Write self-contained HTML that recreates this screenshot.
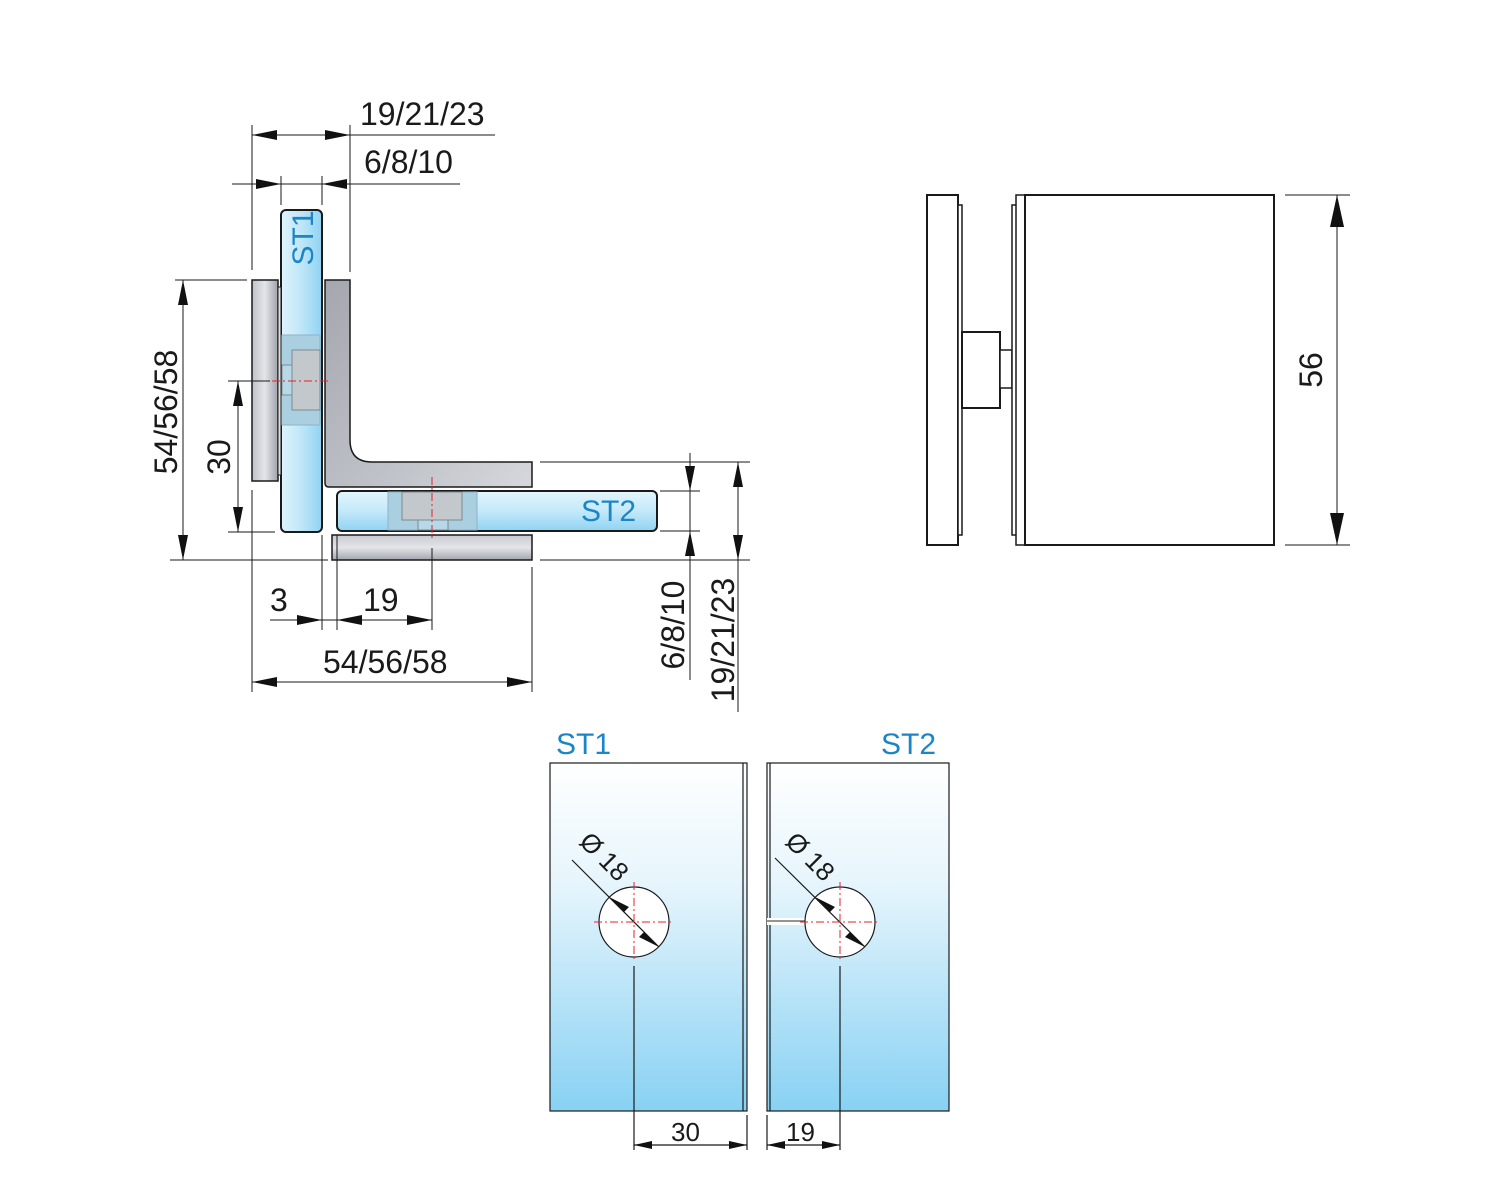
<!DOCTYPE html>
<html><head><meta charset="utf-8"><style>
html,body{margin:0;padding:0;background:#fff;}
svg{display:block}
text{font-family:"Liberation Sans",sans-serif;}
</style></head><body>
<svg width="1500" height="1200" viewBox="0 0 1500 1200" xmlns="http://www.w3.org/2000/svg">
<defs>
<linearGradient id="gH" x1="0" y1="0" x2="1" y2="0"><stop offset="0" stop-color="#dff3fc"/><stop offset="0.5" stop-color="#bfe6f8"/><stop offset="1" stop-color="#8fd3f2"/></linearGradient>
<linearGradient id="gV" x1="0" y1="0" x2="0" y2="1"><stop offset="0" stop-color="#e4f5fd"/><stop offset="0.5" stop-color="#c4e9f9"/><stop offset="1" stop-color="#8fd3f2"/></linearGradient>
<linearGradient id="gP" x1="0" y1="0" x2="0" y2="1"><stop offset="0" stop-color="#ffffff"/><stop offset="0.35" stop-color="#e6f5fc"/><stop offset="1" stop-color="#88d1f3"/></linearGradient>
<linearGradient id="mH" x1="0" y1="0" x2="1" y2="0"><stop offset="0" stop-color="#c0c2c8"/><stop offset="0.5" stop-color="#e4e5e9"/><stop offset="1" stop-color="#9fa2aa"/></linearGradient>
<linearGradient id="mV" x1="0" y1="0" x2="0" y2="1"><stop offset="0" stop-color="#c8cad0"/><stop offset="0.5" stop-color="#e4e5e9"/><stop offset="1" stop-color="#a3a6ae"/></linearGradient>
<linearGradient id="mL" x1="0" y1="0" x2="1" y2="1"><stop offset="0" stop-color="#a4a7ae"/><stop offset="0.6" stop-color="#bec1c7"/><stop offset="1" stop-color="#d6d8dc"/></linearGradient>
</defs>
<g stroke="#1a1a1a" stroke-width="1" fill="none">
<rect x="281" y="210" width="41" height="322" rx="5" fill="url(#gH)" stroke-width="2"/>
<rect x="281" y="335" width="39" height="90" fill="#a9cfe0" stroke="#8fb3c4"/>
<rect x="292" y="350" width="28" height="60" fill="#c2c8cc" stroke="#7f8a90"/>
<rect x="282" y="365" width="10" height="30" fill="#b7d8e6" stroke="#7f8a90"/>
<rect x="252" y="280" width="26" height="201" fill="url(#mH)" stroke-width="1.5"/>
<rect x="278" y="287" width="3" height="188" fill="#ddd"/>
<path d="M325 280 H350 V440 Q350 462 372 462 H532 V487 H329 Q325 487 325 483 Z" fill="url(#mL)" stroke-width="1.5"/>
<rect x="337" y="491" width="320" height="40" rx="5" fill="url(#gV)" stroke-width="2"/>
<rect x="388" y="492" width="89" height="38" fill="#a9cfe0" stroke="#8fb3c4"/>
<rect x="402" y="492" width="60" height="28" fill="#c2c8cc" stroke="#7f8a90"/>
<rect x="418" y="520" width="30" height="10" fill="#b7d8e6" stroke="#7f8a90"/>
<rect x="332" y="535" width="200" height="25" fill="url(#mV)" stroke-width="1.5"/>
<line x1="272" y1="381" x2="330" y2="381" stroke="#e8202a" stroke-dasharray="8 3 2 3"/>
<line x1="432" y1="477" x2="432" y2="540" stroke="#e8202a" stroke-dasharray="8 3 2 3"/>
<line x1="252" y1="125" x2="252" y2="270"/><line x1="350" y1="125" x2="350" y2="272"/>
<line x1="281" y1="176" x2="281" y2="205"/><line x1="322" y1="176" x2="322" y2="205"/>
<line x1="252" y1="135" x2="495" y2="135"/><line x1="232" y1="184" x2="460" y2="184"/>
<line x1="175" y1="280" x2="247" y2="280"/><line x1="170" y1="560" x2="328" y2="560"/><line x1="540" y1="560" x2="750" y2="560"/>
<line x1="228" y1="381" x2="270" y2="381"/><line x1="228" y1="532" x2="275" y2="532"/>
<line x1="183" y1="280" x2="183" y2="560"/><line x1="238" y1="381" x2="238" y2="532"/>
<line x1="252" y1="490" x2="252" y2="692"/><line x1="322" y1="535" x2="322" y2="630"/><line x1="337" y1="535" x2="337" y2="630"/>
<line x1="432" y1="548" x2="432" y2="630"/><line x1="532" y1="567" x2="532" y2="692"/>
<line x1="270" y1="620" x2="432" y2="620"/><line x1="252" y1="682" x2="532" y2="682"/>
<line x1="540" y1="462" x2="750" y2="462"/><line x1="660" y1="491" x2="700" y2="491"/><line x1="660" y1="531" x2="700" y2="531"/>
<line x1="690" y1="453" x2="690" y2="680"/><line x1="738" y1="462" x2="738" y2="712"/>
</g>
<g fill="#111">
<polygon points="252,135 277,130 277,140"/><polygon points="350,135 325,130 325,140"/>
<polygon points="281,184 256,179 256,189"/><polygon points="322,184 347,179 347,189"/>
<polygon points="183,280 178,305 188,305"/><polygon points="183,560 178,535 188,535"/>
<polygon points="238,381 233,406 243,406"/><polygon points="238,532 233,507 243,507"/>
<polygon points="322,620 297,615 297,625"/><polygon points="337,620 362,615 362,625"/><polygon points="432,620 407,615 407,625"/>
<polygon points="252,682 277,677 277,687"/><polygon points="532,682 507,677 507,687"/>
<polygon points="690,491 685,466 695,466"/><polygon points="690,531 685,556 695,556"/>
<polygon points="738,462 733,487 743,487"/><polygon points="738,560 733,535 743,535"/>
</g>
<g font-size="32" fill="#1a1a1a">
<text x="360" y="125">19/21/23</text>
<text x="364" y="173">6/8/10</text>
<text x="270" y="611">3</text>
<text x="363" y="611">19</text>
<text x="323" y="673">54/56/58</text>
<text transform="translate(177,412) rotate(-90)" text-anchor="middle">54/56/58</text>
<text transform="translate(230,457) rotate(-90)" text-anchor="middle">30</text>
<text transform="translate(684,625) rotate(-90)" text-anchor="middle">6/8/10</text>
<text transform="translate(734,640) rotate(-90)" text-anchor="middle">19/21/23</text>
<text transform="translate(1322,370) rotate(-90)" text-anchor="middle">56</text>
</g>
<g font-size="30" fill="#1a86c8">
<text transform="translate(313,238) rotate(-90)" text-anchor="middle">ST1</text>
<text x="581" y="521">ST2</text>
<text x="556" y="754">ST1</text>
<text x="881" y="754">ST2</text>
</g>
<g stroke="#1a1a1a" stroke-width="2" fill="#fff">
<rect x="927" y="195" width="31" height="350"/>
<rect x="958" y="205" width="4" height="330" stroke-width="1.5"/>
<rect x="962" y="332" width="38" height="76"/>
<rect x="1000" y="350" width="12" height="38" stroke-width="1.5"/>
<rect x="1012" y="205" width="5" height="330" stroke-width="1.5"/>
<rect x="1016" y="195" width="9" height="350" stroke-width="1.5"/>
<rect x="1025" y="195" width="249" height="350"/>
</g>
<g stroke="#1a1a1a" stroke-width="1"><line x1="1285" y1="195" x2="1350" y2="195"/><line x1="1285" y1="545" x2="1350" y2="545"/><line x1="1337" y1="195" x2="1337" y2="545"/></g>
<polygon points="1337,195 1330,227 1344,227" fill="#111"/><polygon points="1337,545 1330,513 1344,513" fill="#111"/>
<g stroke="#1a1a1a" stroke-width="1.2">
<rect x="550" y="763" width="197" height="348" fill="url(#gP)"/>
<line x1="743" y1="763" x2="743" y2="1111"/>
<rect x="767" y="763" width="182" height="348" fill="url(#gP)"/>
<line x1="770" y1="763" x2="770" y2="918"/><line x1="770" y1="925" x2="770" y2="1111"/>
<rect x="767" y="918" width="40" height="7" fill="#fff" stroke="none"/>
<line x1="767" y1="921" x2="806" y2="921" stroke="#555"/>
<circle cx="634" cy="922" r="35" fill="#fff"/>
<circle cx="840" cy="922" r="35" fill="#fff"/>
<line x1="634" y1="966" x2="634" y2="1150"/><line x1="840" y1="966" x2="840" y2="1150"/>
<line x1="747" y1="1115" x2="747" y2="1150"/><line x1="767" y1="1115" x2="767" y2="1150"/>
<line x1="634" y1="1145" x2="747" y2="1145"/><line x1="767" y1="1145" x2="840" y2="1145"/>
<line x1="572" y1="860" x2="659" y2="947"/><line x1="775" y1="858" x2="865" y2="947"/>
</g>
<g stroke="#e8202a" stroke-width="1" stroke-dasharray="8 3 2 3">
<line x1="594" y1="922" x2="674" y2="922"/><line x1="634" y1="882" x2="634" y2="962"/>
<line x1="800" y1="922" x2="880" y2="922"/><line x1="840" y1="882" x2="840" y2="962"/>
</g>
<g fill="#111">
<polygon points="609,897 629,907 624,912"/><polygon points="659,947 639,937 644,932"/>
<polygon points="815,897 835,907 830,912"/><polygon points="865,947 845,937 850,932"/>
<polygon points="634,1145 652,1141 652,1149"/><polygon points="747,1145 729,1141 729,1149"/>
<polygon points="767,1145 785,1141 785,1149"/><polygon points="840,1145 822,1141 822,1149"/>
</g>
<g font-size="26" fill="#1a1a1a">
<text x="671" y="1141">30</text><text x="786" y="1141">19</text>
<text transform="translate(578,843) rotate(45)">Ø 18</text>
<text transform="translate(784,843) rotate(45)">Ø 18</text>
</g>
</svg>
</body></html>
